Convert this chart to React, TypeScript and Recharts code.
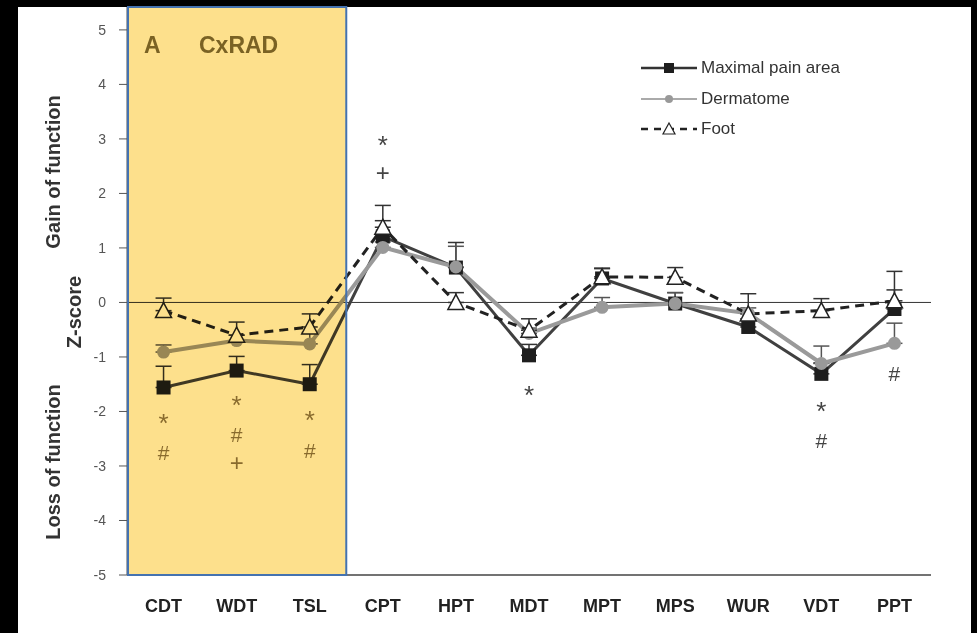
import React from "react";
import {
	LineChart,
	Line,
	XAxis,
	YAxis,
	ReferenceLine,
	ReferenceArea,
	ReferenceDot,
	ErrorBar,
	Legend,
} from "recharts";

const categories = ["CDT", "WDT", "TSL", "CPT", "HPT", "MDT", "MPT", "MPS", "WUR", "VDT", "PPT"];

const maximalPain = [-1.56, -1.25, -1.5, 1.21, 0.64, -0.97, 0.44, -0.02, -0.45, -1.31, -0.12];
const maximalPainErr = [0.39, 0.26, 0.36, 0.57, 0.46, 0.2, 0.19, 0.2, 0.15, 0.2, 0.35];

const dermatome = [-0.91, -0.7, -0.76, 1.01, 0.65, -0.57, -0.09, -0.02, -0.2, -1.12, -0.75];
const dermatomeErr = [0.13, 0.1, 0.21, 0.1, 0.38, 0.1, 0.18, 0.2, 0.1, 0.32, 0.37];

const foot = [-0.15, -0.6, -0.45, 1.38, 0.0, -0.51, 0.47, 0.46, -0.21, -0.15, 0.03];
const footErr = [0.23, 0.24, 0.24, 0.12, 0.18, 0.21, 0.15, 0.18, 0.37, 0.22, 0.54];

const yTicks = [-5, -4, -3, -2, -1, 0, 1, 2, 3, 4, 5];

// significance marks under / above the points
const marks = [
	{ cat: "CDT", y: -2.11, sign: "*" },
	{ cat: "CDT", y: -2.75, sign: "#" },
	{ cat: "WDT", y: -1.78, sign: "*" },
	{ cat: "WDT", y: -2.41, sign: "#" },
	{ cat: "WDT", y: -2.94, sign: "+" },
	{ cat: "TSL", y: -2.04, sign: "*" },
	{ cat: "TSL", y: -2.7, sign: "#" },
	{ cat: "CPT", y: 3.0, sign: "*" },
	{ cat: "CPT", y: 2.37, sign: "+" },
	{ cat: "MDT", y: -1.58, sign: "*" },
	{ cat: "VDT", y: -1.89, sign: "*" },
	{ cat: "VDT", y: -2.53, sign: "#" },
	{ cat: "PPT", y: -1.3, sign: "#" },
];

const data = categories.map((name, i) => ({
	idx: i,
	name,
	maximal: maximalPain[i],
	maximalErr: [0, maximalPainErr[i]],
	dermatome: dermatome[i],
	dermatomeErr: [0, dermatomeErr[i]],
	foot: foot[i],
	footErr: [0, footErr[i]],
}));

const FONT = "'Liberation Sans', Arial, sans-serif";

const signStyle: Record<string, { size: number; dy: number }> = {
	"*": { size: 26, dy: 15 },
	"#": { size: 21, dy: 8 },
	"+": { size: 24, dy: 8 },
};

const SquareDot = (p: any) => (
	<rect key={`sq-${p.index}`} x={p.cx - 7} y={p.cy - 7} width={14} height={14} fill="#1e1e1e" />
);

const CircleDot = (p: any) => (
	<circle key={`ci-${p.index}`} cx={p.cx} cy={p.cy} r={6.5} fill="#999" />
);

const TriangleDot = (p: any) => (
	<path
		key={`tr-${p.index}`}
		d={`M${p.cx},${p.cy - 8} L${p.cx + 8},${p.cy + 7} L${p.cx - 8},${p.cy + 7} Z`}
		fill="#fff"
		stroke="#222"
		strokeWidth={1.5}
	/>
);

const legendItems = [
	{ label: "Maximal pain area", kind: "square" },
	{ label: "Dermatome", kind: "circle" },
	{ label: "Foot", kind: "triangle" },
];

const LegendBox = () => (
	<div style={{ fontFamily: FONT, fontSize: 17, color: "#333" }}>
		{legendItems.map((it) => (
			<div key={it.label} style={{ display: "flex", alignItems: "center", height: 30.5 }}>
				<svg width={58} height={20} style={{ marginRight: 2 }}>
					{it.kind === "square" && (
						<g>
							<line x1={0} y1={10} x2={56} y2={10} stroke="#333" strokeWidth={2.5} />
							<rect x={23} y={5} width={10} height={10} fill="#1e1e1e" />
						</g>
					)}
					{it.kind === "circle" && (
						<g>
							<line x1={0} y1={10} x2={56} y2={10} stroke="#aaa" strokeWidth={2} />
							<circle cx={28} cy={10} r={4} fill="#999" />
						</g>
					)}
					{it.kind === "triangle" && (
						<g>
							<line x1={0} y1={10} x2={56} y2={10} stroke="#222" strokeWidth={2.5} strokeDasharray="7 6" />
							<path d="M28,4 L34,15 L22,15 Z" fill="#fff" stroke="#222" strokeWidth={1.2} />
						</g>
					)}
				</svg>
				<span>{it.label}</span>
			</div>
		))}
	</div>
);

const XTick = (p: any) => (
	<text
		x={p.x}
		y={p.y + 35}
		textAnchor="middle"
		fontFamily={FONT}
		fontSize={18}
		fontWeight={700}
		fill="#222"
	>
		{categories[p.payload.value]}
	</text>
);

const AxisTitles = (props: any) => {
	const vb = props.viewBox || { x: 0, y: 7 };
	const t = (x: number, y: number, s: string) => (
		<text
			x={x}
			y={y}
			transform={`rotate(-90 ${x} ${y})`}
			textAnchor="middle"
			fontFamily={FONT}
			fontSize={20}
			fontWeight={700}
			fill="#333"
		>
			{s}
		</text>
	);
	return (
		<g>
			{t(vb.x + 60, 172, "Gain of function")}
			{t(vb.x + 81, 312, "Z-score")}
			{t(vb.x + 60, 462, "Loss of function")}
		</g>
	);
};

const CxRadBox = (p: any) => (
	<g>
		<rect x={p.x} y={p.y} width={p.width} height={p.height} fill="#fde08c" style={{ mixBlendMode: "multiply" }} />
		<rect x={p.x + 1} y={p.y} width={p.width - 1} height={p.height} fill="none" stroke="#4472b0" strokeWidth={2} />
		<text x={p.x + 17} y={p.y + 46} fontFamily={FONT} fontSize={23} fontWeight={700} fill="#7a6224">
			A
		</text>
		<text x={p.x + 72} y={p.y + 46} fontFamily={FONT} fontSize={23} fontWeight={700} fill="#7a6224">
			CxRAD
		</text>
	</g>
);

export default function App() {
	return (
		<div style={{ position: "fixed", inset: 0, background: "#000" }}>
			<div
				style={{ position: "absolute", left: 18, top: 7, width: 953, height: 626, background: "#fff" }}
			/>
			<div style={{ position: "absolute", left: 0, top: 0 }}>
				<LineChart width={977} height={633} data={data} margin={{ top: 7, right: 46, bottom: 0, left: 0 }}>
					<XAxis
						dataKey="idx"
						type="number"
						domain={[-0.5, 10.5]}
						ticks={[0, 1, 2, 3, 4, 5, 6, 7, 8, 9, 10]}
						interval={0}
						tick={<XTick />}
						tickLine={false}
						tickSize={0}
						axisLine={{ stroke: "#444", strokeWidth: 1.5 }}
						height={58}
					/>
					<YAxis
						type="number"
						width={127}
						domain={[-5, 5.42]}
						ticks={yTicks}
						allowDataOverflow
						tickSize={8}
						tickMargin={13}
						tick={{ fontFamily: FONT, fontSize: 14, fill: "#555" }}
						tickLine={{ stroke: "#555" }}
						axisLine={{ stroke: "#555" }}
						label={{ content: <AxisTitles /> }}
					/>
					<ReferenceLine y={0} stroke="#333" strokeWidth={1} />
					<Line
						dataKey="maximal"
						stroke="#404040"
						strokeWidth={3}
						dot={SquareDot}
						activeDot={false}
						isAnimationActive={false}
					>
						<ErrorBar dataKey="maximalErr" direction="y" width={8} stroke="#333" strokeWidth={1.5} />
					</Line>
					<Line
						dataKey="dermatome"
						stroke="#9a9a9a"
						strokeWidth={4}
						dot={CircleDot}
						activeDot={false}
						isAnimationActive={false}
					>
						<ErrorBar dataKey="dermatomeErr" direction="y" width={8} stroke="#555" strokeWidth={1.5} />
					</Line>
					<Line
						dataKey="foot"
						stroke="#222"
						strokeWidth={3}
						strokeDasharray="9 6"
						dot={TriangleDot}
						activeDot={false}
						isAnimationActive={false}
					>
						<ErrorBar dataKey="footErr" direction="y" width={8} stroke="#333" strokeWidth={1.5} />
					</Line>
					{marks.map((m, i) => (
						<ReferenceDot
							key={`mk-${i}`}
							x={categories.indexOf(m.cat)}
							y={m.y}
							r={0}
							shape={(p: any) => (
								<text
									x={p.cx}
									y={p.cy + signStyle[m.sign].dy}
									textAnchor="middle"
									fontFamily={FONT}
									fontSize={signStyle[m.sign].size}
									fill={categories.indexOf(m.cat) < 3 ? "#8a7a52" : "#444"}
								>
									{m.sign}
								</text>
							)}
						/>
					))}
					<ReferenceArea
						x1={-0.5}
						x2={2.5}
						y1={-5}
						y2={5.42}
						shape={CxRadBox}
						ifOverflow="visible"
						zIndex={2000}
					/>
					<Legend
						layout="horizontal"
						align="center"
						verticalAlign="middle"
						content={<LegendBox />}
						wrapperStyle={{ top: 53, left: 641, width: 260 }}
					/>
				</LineChart>
			</div>
		</div>
	);
}
